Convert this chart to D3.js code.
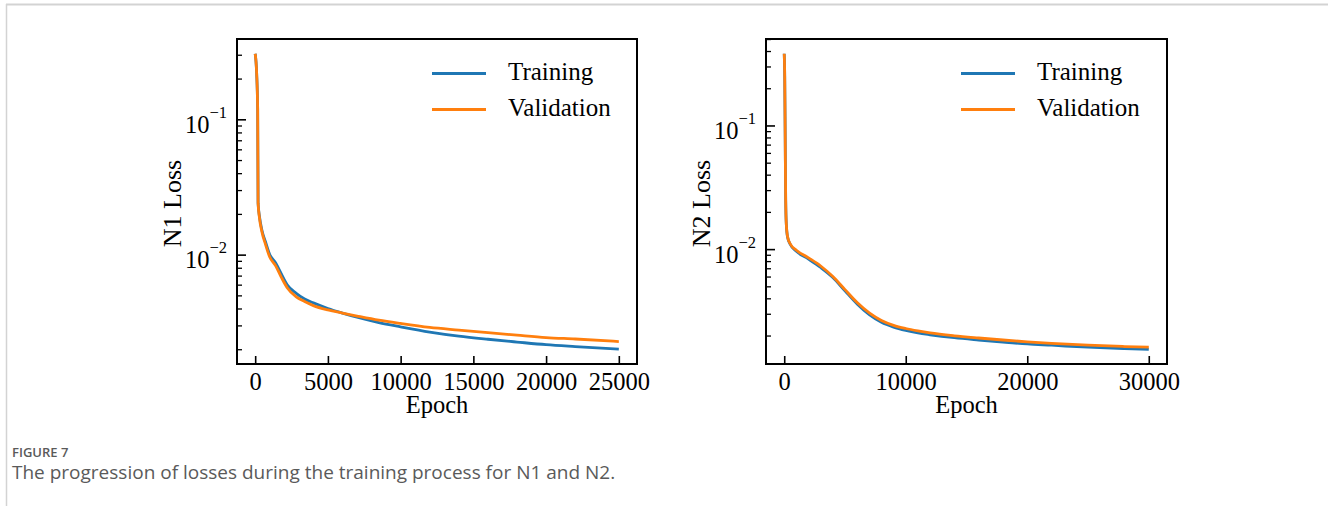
<!DOCTYPE html>
<html>
<head>
<meta charset="utf-8">
<script src="https://cdn.jsdelivr.net/npm/d3@7/dist/d3.min.js"></script>
<style>
  html, body { margin: 0; padding: 0; background: #fff; }
  svg { display: block; }
</style>
</head>
<body>
<svg id="chart" width="1328" height="506"></svg>
<script>
// ---------- DATA ----------
const seriesNames = ["Training", "Validation"];

const n1Epochs = [0, 100, 170, 200, 300, 460, 700, 1000, 1400, 1800, 2200, 2800, 3400, 4000, 5000, 6000, 7000, 8500, 10000, 12000, 14000, 16000, 18000, 20000, 22000, 25000];
const n1Training = [0.305, 0.22, 0.12, 0.024, 0.019, 0.0152, 0.0125, 0.0100, 0.0087, 0.0072, 0.0060, 0.0052, 0.0047, 0.0044, 0.0040, 0.00370, 0.00345, 0.00315, 0.00293, 0.00268, 0.00250, 0.00237, 0.00226, 0.00216, 0.00209, 0.00200];
const n1Validation = [0.305, 0.22, 0.12, 0.024, 0.0185, 0.0148, 0.0120, 0.0096, 0.0083, 0.0068, 0.0057, 0.0049, 0.0045, 0.0042, 0.0039, 0.00370, 0.00352, 0.00328, 0.00310, 0.00290, 0.00277, 0.00265, 0.00254, 0.00244, 0.00238, 0.00228];

const n2Epochs = [0, 40, 80, 120, 170, 275, 500, 1000, 2000, 3000, 4000, 5000, 6000, 7000, 8000, 9000, 10000, 11000, 12000, 14000, 16000, 18000, 20000, 22000, 25000, 28000, 30000];
const n2Training = [0.38, 0.25, 0.08, 0.025, 0.016, 0.0125, 0.0109, 0.0096, 0.0083, 0.0071, 0.0059, 0.0046, 0.0036, 0.00295, 0.00256, 0.00234, 0.00220, 0.00210, 0.00203, 0.00192, 0.00184, 0.00177, 0.00171, 0.00167, 0.00161, 0.00157, 0.00155];
const n2Validation = [0.38, 0.25, 0.08, 0.025, 0.016, 0.0126, 0.0110, 0.0098, 0.0085, 0.0073, 0.0060, 0.0047, 0.0037, 0.00305, 0.00265, 0.00242, 0.00228, 0.00218, 0.00210, 0.00199, 0.00191, 0.00184, 0.00178, 0.00173, 0.00167, 0.00163, 0.00161];

const n1XTicks = [0, 5000, 10000, 15000, 20000, 25000];
const n2XTicks = [0, 10000, 20000, 30000];
const yMajorTicks = [0.1, 0.01];
const yTickExponents = ["−1", "−2"];

const xLabel = "Epoch";
const n1YLabel = "N1 Loss";
const n2YLabel = "N2 Loss";
const figureLabel = "FIGURE 7";
const captionText = "The progression of losses during the training process for N1 and N2.";

// ---------- STYLE ----------
const colors = ["#1f77b4", "#ff7f0e"];
const serif = "'Liberation Serif', 'Times New Roman', serif";
const fs = 24.5;

const svg = d3.select("#chart");

// page frame lines
svg.append("line").attr("x1", 6).attr("x2", 1328).attr("y1", 4.5).attr("y2", 4.5)
  .attr("stroke", "#d3d3d3").attr("stroke-width", 2);
svg.append("line").attr("x1", 6.5).attr("x2", 6.5).attr("y1", 4).attr("y2", 506)
  .attr("stroke", "#d3d3d3").attr("stroke-width", 1.5);

function minorTicks(domain) {
  const out = [];
  const lo = Math.floor(Math.log10(domain[0])), hi = Math.ceil(Math.log10(domain[1]));
  for (let e = lo; e <= hi; e++) {
    for (let m = 2; m <= 9; m++) {
      const v = m * Math.pow(10, e);
      if (v >= domain[0] && v <= domain[1]) out.push(v);
    }
  }
  return out;
}

function panel(opts) {
  const { left, right, top, bottom, epochs, train, valid, xTicks, yLabel, yLabelX, legendX } = opts;
  const g = svg.append("g");
  const xMax = d3.max(epochs);
  const xPad = xMax * 0.05;
  const x = d3.scaleLinear().domain([-xPad, xMax + xPad]).range([left, right]);
  const all = train.concat(valid);
  const lmin = Math.log10(d3.min(all)), lmax = Math.log10(d3.max(all));
  const lp = (lmax - lmin) * 0.05;
  const y = d3.scaleLog().domain([Math.pow(10, lmin - lp), Math.pow(10, lmax + lp)]).range([bottom, top]);

  // lines
  const line = d3.line().x(d => x(d[0])).y(d => y(d[1])).curve(d3.curveMonotoneX);
  [train, valid].forEach((s, i) => {
    g.append("path")
      .datum(epochs.map((e, j) => [e, s[j]]))
      .attr("fill", "none").attr("stroke", colors[i]).attr("stroke-width", 2.8)
      .attr("stroke-linejoin", "round").attr("stroke-linecap", "butt")
      .attr("d", line);
  });

  // x axis
  const xa = g.append("g").attr("transform", `translate(0,${bottom})`)
    .call(d3.axisBottom(x).tickValues(xTicks).tickSize(-8).tickPadding(9).tickFormat(d3.format("d")));
  xa.select(".domain").remove();
  xa.selectAll(".tick line").attr("stroke", "#000").attr("stroke-width", 1.6);
  xa.selectAll(".tick text").attr("font-family", serif).attr("font-size", fs).attr("fill", "#000");

  // y minor
  const ym = g.append("g").attr("transform", `translate(${left},0)`)
    .call(d3.axisLeft(y).tickValues(minorTicks(y.domain())).tickSize(-5).tickFormat(""));
  ym.select(".domain").remove();
  ym.selectAll(".tick line").attr("stroke", "#000").attr("stroke-width", 1.3);

  // y major
  const yM = g.append("g").attr("transform", `translate(${left},0)`)
    .call(d3.axisLeft(y).tickValues(yMajorTicks).tickSize(-9).tickPadding(10).tickFormat(""));
  yM.select(".domain").remove();
  yM.selectAll(".tick line").attr("stroke", "#000").attr("stroke-width", 1.6);
  yM.selectAll(".tick text").each(function(d, i) {
    const t = d3.select(this);
    t.attr("font-family", serif).attr("font-size", fs).attr("fill", "#000").attr("dy", null)
      .attr("y", 13).attr("text-anchor", "end");
    t.text(null);
    t.append("tspan").text("10");
    t.append("tspan").attr("font-size", 16.5).attr("dy", -15).text(yTickExponents[i]);
  });

  // frame
  g.append("rect").attr("x", left).attr("y", top).attr("width", right - left).attr("height", bottom - top)
    .attr("fill", "none").attr("stroke", "#000").attr("stroke-width", 2);

  // labels
  g.append("text").attr("x", (left + right) / 2).attr("y", 413).attr("text-anchor", "middle")
    .attr("font-family", serif).attr("font-size", fs).text(xLabel);
  g.append("text").attr("transform", `translate(${yLabelX},${(top + bottom) / 2 + 2}) rotate(-90)`)
    .attr("text-anchor", "middle").attr("font-family", serif).attr("font-size", 26).text(yLabel);

  // legend
  seriesNames.forEach((n, i) => {
    const ly = 73.5 + i * 36;
    g.append("line").attr("x1", legendX).attr("x2", legendX + 54).attr("y1", ly).attr("y2", ly)
      .attr("stroke", colors[i]).attr("stroke-width", 2.8);
    g.append("text").attr("x", legendX + 76).attr("y", ly + 6.5).attr("font-family", serif)
      .attr("font-size", 25).attr("fill", "#000").text(n);
  });
}

panel({ left: 237, right: 637, top: 39, bottom: 364, epochs: n1Epochs, train: n1Training, valid: n1Validation,
  xTicks: n1XTicks, yLabel: n1YLabel, yLabelX: 181, legendX: 432 });
panel({ left: 766, right: 1167, top: 39, bottom: 364, epochs: n2Epochs, train: n2Training, valid: n2Validation,
  xTicks: n2XTicks, yLabel: n2YLabel, yLabelX: 710, legendX: 961 });

// caption
svg.append("text").attr("x", 12).attr("y", 457).attr("font-family", "'Open Sans', sans-serif")
  .attr("font-size", 13).attr("font-weight", 600).attr("fill", "#5a5a5a").text(figureLabel);
svg.append("text").attr("x", 12).attr("y", 479).attr("font-family", "'Open Sans', sans-serif")
  .attr("font-size", 19).attr("fill", "#5a5a5a").text(captionText);
</script>
</body>
</html>
